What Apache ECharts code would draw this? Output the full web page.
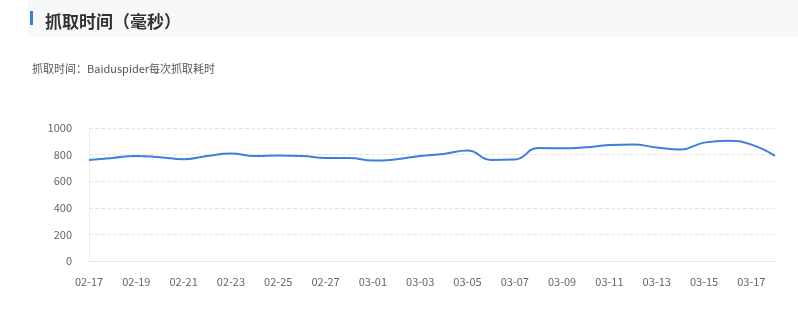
<!DOCTYPE html>
<html><head><meta charset="utf-8">
<script src="https://cdn.jsdelivr.net/npm/echarts@6/dist/echarts.min.js"></script>
<style>html,body{margin:0;padding:0;background:#fff}#c{width:798px;height:313px}</style>
</head><body><div id="c"></div>
<script>
const categories = ['02-17','02-18','02-19','02-20','02-21','02-22','02-23','02-24','02-25','02-26','02-27','02-28','03-01','03-02','03-03','03-04','03-05','03-06','03-07','03-08','03-09','03-10','03-11','03-12','03-13','03-14','03-15','03-16','03-17','03-18'];
const crawlTime = [760,775,790,780,765,790,808,790,793,790,775,775,755,765,790,805,830,760,763,850,847,855,872,876,853,838,890,905,875,790];
const yTicks = [0,200,400,600,800,1000];

const chart = echarts.init(document.getElementById('c'));
chart.setOption({
  animation: false,
  graphic: [
    {type:'rect', shape:{x:28,y:0,width:770,height:37}, style:{fill:'#f7f8f9'}, silent:true},
    {type:'rect', shape:{x:30,y:11,width:3,height:14}, style:{fill:'#3b7ddd'}, silent:true}
  ],
  title: [
    {text:'抓取时间（毫秒）', left:40, top:8, textStyle:{fontSize:17, fontWeight:'bold', color:'#333', fontFamily:'"Noto Sans CJK SC", sans-serif'}},
    {text:'抓取时间：Baiduspider每次抓取耗时', left:27, top:58, textStyle:{fontSize:11, fontWeight:'normal', color:'#555', fontFamily:'"Noto Sans CJK SC", sans-serif'}}
  ],
  grid: {left:89, right:23, top:128, bottom:52, containLabel:false},
  xAxis: {
    type:'category', data:categories, boundaryGap:false,
    axisLine:{lineStyle:{color:'#e6e6e6'}},
    axisTick:{show:false},
    axisLabel:{interval:1, color:'#666', fontSize:11, margin:15, fontFamily:'"Noto Sans CJK SC", sans-serif'},
    splitLine:{show:false}
  },
  yAxis: {
    type:'value', min:yTicks[0], max:yTicks[yTicks.length-1], interval:200,
    axisLine:{show:true, lineStyle:{color:'#eeeeee'}},
    axisTick:{show:false},
    axisLabel:{color:'#666', fontSize:11, margin:17, formatter:function(v){return String(v);}, fontFamily:'"Noto Sans CJK SC", sans-serif'},
    splitLine:{lineStyle:{color:'#e4e4e4', type:'dashed'}}
  },
  series: [{
    type:'line', data:crawlTime, smooth:true, showSymbol:false,
    lineStyle:{color:'#3c80dc', width:2}
  }]
});
</script></body></html>
